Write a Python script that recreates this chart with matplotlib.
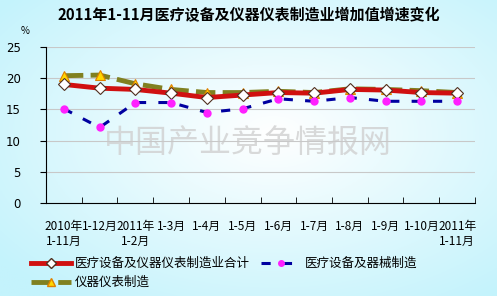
import numpy as np
import matplotlib
matplotlib.use("Agg")
import matplotlib.pyplot as plt
from matplotlib.lines import Line2D

plt.rcParams['font.family'] = ['Noto Sans CJK SC', 'DejaVu Sans']

months = ["2010年\n1-11月", "1-12月", "2011年\n1-2月", "1-3月", "1-4月", "1-5月",
          "1-6月", "1-7月", "1-8月", "1-9月", "1-10月", "2011年\n1-11月"]
total = [19.0, 18.4, 18.2, 17.6, 16.9, 17.3, 17.7, 17.6, 18.2, 18.1, 17.7, 17.6]
medical = [15.1, 12.1, 16.1, 16.1, 14.5, 15.1, 16.7, 16.3, 16.9, 16.3, 16.3, 16.3]
instrument = [20.4, 20.5, 19.1, 18.2, 17.7, 17.7, 17.9, 17.7, 18.3, 18.2, 18.0, 17.7]

fig = plt.figure(figsize=(4.97, 2.96), dpi=100)

# background gradient
bg = fig.add_axes([0, 0, 1, 1], zorder=-10)
yy, xx = np.mgrid[0:1:200j, 0:1:300j]
r = np.sqrt(((xx - 0.55) / 0.7) ** 2 + ((yy - 0.45) / 0.7) ** 2)
r = np.clip(r, 0, 1)
c0 = np.array([1.0, 1.0, 1.0])
c1 = np.array([196, 243, 252]) / 255
img = c0[None, None, :] * (1 - r[..., None]) + c1[None, None, :] * r[..., None]
bg.imshow(img, aspect='auto', extent=[0, 1, 0, 1])
bg.axis('off')

ax = fig.add_axes([46 / 497, 1 - 203 / 296, 429 / 497, 156 / 296])
ax.patch.set_alpha(0)
x = np.arange(len(months))

ax.plot(x, total, color='#d01010', lw=3.5, marker='D', ms=6,
        mfc='white', mec='#503020', mew=0.8, zorder=4)
ax.plot(x, instrument, color='#808020', lw=3.5, dashes=(4, 1.5),
        marker='^', ms=7, mfc='#ffd700', mec='#e08000', mew=0.8, zorder=3)
ax.plot(x, medical, color='#0000a0', lw=2.2, dashes=(3, 4),
        marker='o', ms=5, mfc='#ff20ff', mec='#ff20ff', zorder=5)

ax.set_xlim(-0.5, 11.5)
ax.set_ylim(0, 25)
ax.set_yticks([0, 5, 10, 15, 20, 25])
ax.set_xticks(x)
ax.set_xticklabels(months, fontsize=8.5, linespacing=1.25)
ax.set_xticks(np.arange(-0.5, 12, 1), minor=True)
ax.tick_params(axis='x', which='major', length=0, pad=12)
ax.tick_params(axis='x', which='minor', length=4, direction='in')
ax.tick_params(axis='y', labelsize=8.5, length=4, pad=14)
for lab in ax.get_yticklabels():
    lab.set_family('DejaVu Sans')
ax.grid(axis='y', color='#c8c8c8', lw=0.8)
ax.spines['top'].set_visible(False)
ax.spines['right'].set_visible(False)
ax.spines['left'].set_color('black')
ax.spines['bottom'].set_color('black')

ax.text(0.47, 0.38, "中国产业竞争情报网", transform=ax.transAxes, ha='center',
        va='center', fontsize=23, color='#d0d0d0', alpha=0.8, zorder=1)

fig.text(0.5, 1 - 15 / 296, "2011年1-11月医疗设备及仪器仪表制造业增加值增速变化",
         ha='center', va='center', fontsize=10.8, fontweight='bold')
fig.text(25 / 497, 1 - 31 / 296, "%", ha='center', va='center', fontsize=7)

handles = [
    Line2D([], [], color='#d01010', lw=3.5, marker='D', ms=5, mfc='white', mec='#503020'),
    Line2D([], [], color='#808020', lw=3.5, dashes=(4, 1.5), marker='^', ms=5.5,
           mfc='#ffd700', mec='#e08000'),
    Line2D([], [], color='#0000a0', lw=2.2, dashes=(3, 4), marker='o', ms=4,
           mfc='#ff20ff', mec='#ff20ff'),
]
labels = ["医疗设备及仪器仪表制造业合计", "仪器仪表制造", "医疗设备及器械制造"]
fig.legend(handles, labels, ncol=2, loc='upper left', bbox_to_anchor=(31 / 497, 1 - 257 / 296),
           frameon=False, fontsize=9, handlelength=3.2, handletextpad=0.3,
           columnspacing=0.9, labelspacing=0.5, borderaxespad=0, borderpad=0)

fig.savefig("out.png", dpi=100)
